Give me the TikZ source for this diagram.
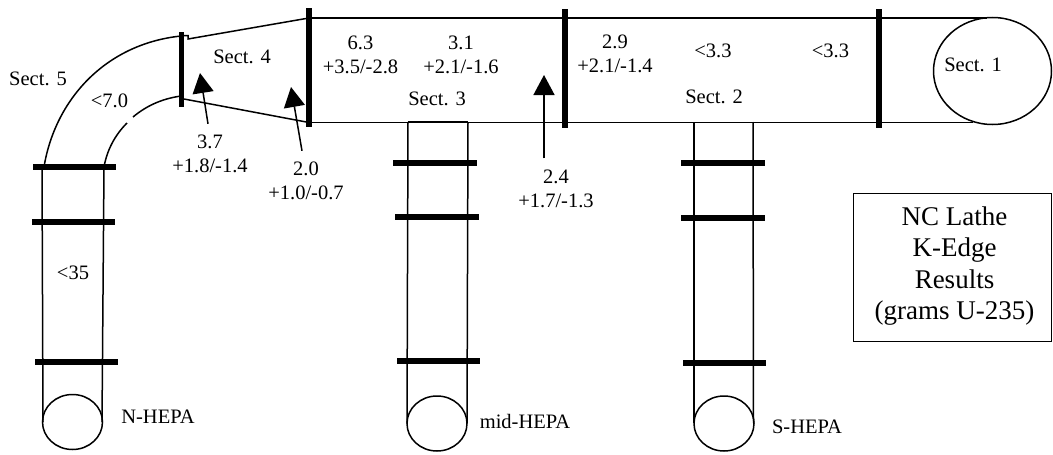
\documentclass[tikz,border=0pt]{standalone}
\usepackage{fontspec}
\setmainfont{Liberation Serif}
\usetikzlibrary{arrows.meta,shapes.geometric}
\begin{document}
\begin{tikzpicture}[x=1pt, y=-1pt,
    duct/.style={line width=1.5pt},
    flange/.style={line width=5.5pt},
    filter/.style={draw, ellipse, line width=1.5pt, minimum width=60pt, minimum height=55pt, inner sep=0pt},
    pointer/.style={line width=1.5pt, -{Triangle[length=20pt, width=21pt]}},
    tag/.style={font=\fontsize{20.5}{24}\selectfont, align=center, inner sep=0pt},
    note/.style={tag, inner ysep=11pt}]
    \useasboundingbox (0,0) rectangle (1053,455);

    % Main duct
    \draw[duct] (309,18) -- (987,18);
    \draw[duct] (309,122.5) -- (973,122.5);
    \node (sect1) [filter, minimum width=118pt, minimum height=107pt] at (992.5,71) {};
    \draw[flange] (309,8) -- (309,127);
    \draw[flange] (565,9) -- (565,128);
    \draw[flange] (879,9) -- (879,128);

    % Taper and elbow
    \draw[duct] (181,35.5) -- (188,35.5) -- (188,39) -- (309,18);
    \draw[duct] (184,99) -- (309,122.5);
    \draw[flange] (181.5,32) -- (181.5,107);
    \draw[duct] (181,36) .. controls (105,44) and (55,100) .. (44,167);
    \draw[duct] (181,96) .. controls (160,99) and (145,107) .. (133,117);
    \draw[duct] (127,123) .. controls (115,135) and (107,150) .. (104,167);

    % N-HEPA leg
    \draw[duct] (42,167) -- (43,422);
    \draw[duct] (104,167) -- (102,422);
    \draw[flange] (33,167) -- (116,167);
    \draw[flange] (32,222) -- (115,222);
    \draw[flange] (35,362) -- (118,362);
    \node (nfilter) [filter] at (72.5,422) {};

    % mid-HEPA leg
    \draw[duct] (408,122) -- (468,122);
    \draw[duct] (408,122) -- (407,423);
    \draw[duct] (468,122) -- (467,423);
    \draw[flange] (393,163) -- (477,163);
    \draw[flange] (395,217) -- (479,217);
    \draw[flange] (397,361) -- (480,361);
    \node (mfilter) [filter] at (437,423.5) {};

    % S-HEPA leg
    \draw[duct] (694,122) -- (694,423);
    \draw[duct] (753,122) -- (753.5,423);
    \draw[flange] (681,163) -- (765,163);
    \draw[flange] (681,218) -- (765,218);
    \draw[flange] (683,363) -- (766,363);
    \node (sfilter) [filter] at (724,423.5) {};

    % Section labels
    \node (lab1) [tag] at (973,65) {Sect. 1};
    \node (lab2) [tag] at (714,97) {Sect. 2};
    \node (lab3) [tag] at (437,99) {Sect. 3};
    \node (lab4) [tag] at (242,57) {Sect. 4};
    \node (lab5) [tag] at (38,79) {Sect. 5};
    \node (labn) [tag] at (158,417) {N-HEPA};
    \node (labm) [tag] at (525,421) {mid-HEPA};
    \node (labs) [tag] at (807,427) {S-HEPA};

    % Results
    \node (res63) [tag] at (360.5,55) {6.3\\+3.5/-2.8};
    \node (res31) [tag] at (461,55) {3.1\\+2.1/-1.6};
    \node (res29) [tag] at (615,54) {2.9\\+2.1/-1.4};
    \node (res33a) [tag] at (713,50.5) {<3.3};
    \node (res33b) [tag] at (830.5,50.5) {<3.3};
    \node (res70) [tag] at (109.5,101) {<7.0};
    \node (res35) [tag] at (73,273) {<35};
    \node (res37) [note] at (210,154) {3.7\\+1.8/-1.4};
    \node (res20) [note] at (306,181) {2.0\\+1.0/-0.7};
    \node (res24) [note] at (556,188.5) {2.4\\+1.7/-1.3};

    % Arrows
    \coordinate (tip37) at (200,73);
    \coordinate (tip20) at (291,87);
    \coordinate (tip24) at (544,75);
    \draw[pointer] (res37.north) ++(-2,0) -- (tip37);
    \draw[pointer] (res20.north) ++(-4,0) -- (tip20);
    \draw[pointer] (res24.north -| tip24) -- (tip24);

    % Title box
    \node (title) [draw, line width=1.5pt, minimum width=198pt, minimum height=148pt] at (952.5,267.5) {};
    \node (titletext) [font=\fontsize{27}{31.5}\selectfont, align=center, inner sep=0pt] at (954.5,266) {NC Lathe\\K-Edge\\Results\\(grams U-235)};
\end{tikzpicture}
\end{document}
